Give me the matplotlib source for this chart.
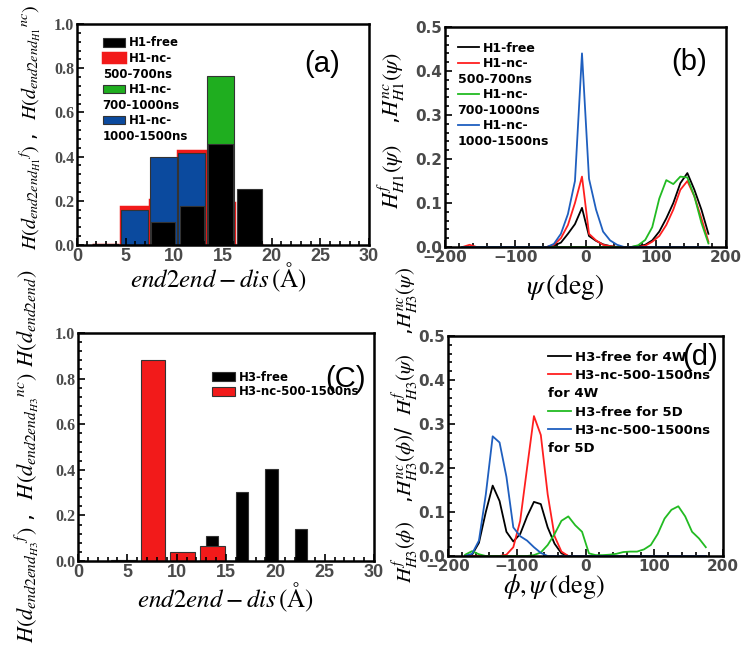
import numpy as np
import matplotlib
matplotlib.use("Agg")
import matplotlib.pyplot as plt
from matplotlib.lines import Line2D
from matplotlib.ticker import MultipleLocator, AutoMinorLocator

plt.rcParams['mathtext.fontset'] = 'stix'

# ---- data: panel (a), H1 end-to-end distance histogram
a_bins = [2.95, 5.9, 8.85, 11.8, 14.75, 17.7]
a_free = [0.005, 0.0, 0.105, 0.176, 0.457, 0.252]
a_nc_500_700 = [0.0, 0.17, 0.204, 0.427, 0.19, 0.0]
a_nc_700_1000 = [0.0, 0.0, 0.0, 0.0, 0.766, 0.0]
a_nc_1000_1500 = [0.0, 0.158, 0.40, 0.418, 0.0, 0.0]

# ---- panel (c), H3 end-to-end distance histogram
c_bins = [4.6, 7.6, 10.6, 13.6, 16.6, 19.6, 22.6]
c_free = [0.0, 0.0, 0.0, 0.11, 0.303, 0.402, 0.142]
c_nc = [0.004, 0.883, 0.04, 0.064, 0.0, 0.0, 0.0]

# ---- panel (b), H1 psi distribution (bin centres -175..175)
angles = np.arange(-175, 180, 10)
b_free = [0] * 12 + [0, .003, .01, .03, .052, .089, .025, .014, .006, .002, 0, 0,
                     0, .002, .005, .015, .035, .065, .1, .145, .168, .13, .085, .03]
b_nc_500_700 = [0, .005] + [0] * 10 + [0, .005, .02, .05, .1, .16, .03, .015, .005, .002, 0, 0,
                                        0, 0, .003, .012, .025, .05, .085, .13, .15, .115, .065, .012]
b_nc_700_1000 = [0] * 24 + [0, .004, .016, .045, .11, .152, .143, .16, .158, .115, .055, .008]
b_nc_1000_1500 = [0] * 12 + [0, .007, .03, .075, .15, .44, .155, .085, .035, .015, .005, 0] + [0] * 12

# ---- panel (d), H3 phi/psi distributions
d_free_4w = [0, .003, .03, .1, .16, .125, .055, .033, .05, .09, .123, .118, .065, .028, .006] + [0] * 21
d_nc_4w = [0] * 6 + [.003, .02, .08, .2, .318, .275, .14, .045, .01] + [0] * 21
d_free_5d = [.003, .011, .004, 0, 0, 0, 0, 0, 0, 0, .002, .008, .025, .05, .08, .09, .07, .055,
             .006, .002, .002, .003, .005, .009, .01, .01, .015, .025, .05, .085, .105, .113,
             .09, .055, .04, .02]
d_nc_5d = [0, .005, .035, .14, .272, .258, .18, .065, .045, .035, .02, .007] + [0] * 24

RED = '#f21a1a'
GREEN = '#1fae1f'
BLUE = '#0b4a9e'
TICK_GRAY = '#4a4a4a'
LEG_FONT = {'family': 'DejaVu Sans', 'weight': 'bold'}


def split_legend(ax, handles, labels, **kw):
    # second line of a label starts under the handle, as in the original figure
    hs, ls, cont = [], [], []
    for h, l in zip(handles, labels):
        parts = l.split('\n')
        hs.append(h)
        ls.append(parts[0])
        cont.append(False)
        for p in parts[1:]:
            hs.append(Line2D([], [], alpha=0))
            ls.append(p)
            cont.append(True)
    leg = ax.legend(hs, ls, frameon=False, borderaxespad=0, loc='upper left', **kw)
    rows = leg._legend_handle_box.get_children()[0].get_children()
    for row, c in zip(rows, cont):
        if c:
            del row.get_children()[0]
    return leg


def style_axes(ax, hist=False):
    for s in ax.spines.values():
        s.set_linewidth(1.8)
    ax.xaxis.set_minor_locator(AutoMinorLocator(5))
    ax.yaxis.set_minor_locator(AutoMinorLocator(5))
    ax.tick_params(which='both', direction='in', top=False, right=False,
                   width=1.2, colors='black', labelcolor=TICK_GRAY)
    ax.tick_params(which='major', length=5, pad=2)
    ax.tick_params(which='minor', length=3)
    if hist:
        ax.tick_params(axis='x', labelsize=13, labelfontfamily='Liberation Sans')
        ax.tick_params(axis='y', labelsize=11.5, labelfontfamily='Liberation Serif')
    else:
        ax.tick_params(axis='both', labelsize=11, labelfontfamily='DejaVu Sans')
    # bold tick labels (new ticks copy the props of the first one)
    for t in ax.xaxis.get_major_ticks() + ax.yaxis.get_major_ticks():
        t.label1.set_fontweight('bold')


def panel_tag(ax, x, y, s):
    ax.text(x, y, s, transform=ax.transAxes, fontsize=21,
            family='Liberation Sans', ha='center', va='center')


fig = plt.figure(figsize=(7.45, 6.49), dpi=100)
W, H = 745.0, 649.0
ax_a = fig.add_axes([77 / W, 1 - 245 / H, 292 / W, 221 / H])
ax_b = fig.add_axes([445 / W, 1 - 247 / H, 281 / W, 220 / H])
ax_c = fig.add_axes([78 / W, 1 - 561 / H, 296 / W, 228 / H])
ax_d = fig.add_axes([448 / W, 1 - 556 / H, 275 / W, 220 / H])

# ---- (a)
bw = 2.75
r = ax_a.bar(a_bins, a_nc_500_700, bw, color=RED, edgecolor=RED, linewidth=2.5)
g = ax_a.bar(a_bins, a_nc_700_1000, bw, color=GREEN, edgecolor='#333333', linewidth=0.8)
b = ax_a.bar(a_bins, a_nc_1000_1500, bw, color=BLUE, edgecolor='#333333', linewidth=0.8)
k = ax_a.bar(a_bins, a_free, bw * 0.92, color='black', edgecolor='#333333', linewidth=0.8)
ax_a.set_xlim(0, 30)
ax_a.set_ylim(0, 1.0)
ax_a.xaxis.set_major_locator(MultipleLocator(5))
ax_a.yaxis.set_major_locator(MultipleLocator(0.2))
ax_a.yaxis.set_major_formatter('{x:.1f}')
style_axes(ax_a, hist=True)
split_legend(ax_a, [k, r, g, b],
             ['H1-free', 'H1-nc-\n500-700ns', 'H1-nc-\n700-1000ns', 'H1-nc-\n1000-1500ns'],
             bbox_to_anchor=(0.08, 0.955), prop=dict(LEG_FONT, size=8.5),
             handlelength=1.9, handleheight=0.75, handletextpad=0.3, labelspacing=0.22,
             borderpad=0.2)
panel_tag(ax_a, 0.84, 0.82, '(a)')
ax_a.set_xlabel(r'$end2end - dis\,(\mathrm{Å})$', fontsize=18, va='center')
ax_a.xaxis.set_label_coords(0.483, -0.145)
ax_a.set_ylabel(r'$H({d_{end2end_{H1}}}^{f})$ ,  $H({d_{end2end_{H1}}}^{nc})$', fontsize=14.5, va='center')
ax_a.yaxis.set_label_coords(-0.161, 0.53)

# ---- (b)
ax_b.plot(angles, b_free, color='black', lw=1.3, label='H1-free')
ax_b.plot(angles, b_nc_500_700, color='#ff1f1f', lw=1.3, label='H1-nc-\n500-700ns')
ax_b.plot(angles, b_nc_700_1000, color='#22bb22', lw=1.3, label='H1-nc-\n700-1000ns')
ax_b.plot(angles, b_nc_1000_1500, color='#1f5fbf', lw=1.3, label='H1-nc-\n1000-1500ns')
ax_b.set_xlim(-200, 200)
ax_b.set_ylim(0, 0.5)
ax_b.xaxis.set_major_locator(MultipleLocator(100))
ax_b.yaxis.set_major_locator(MultipleLocator(0.1))
ax_b.yaxis.set_major_formatter('{x:.1f}')
style_axes(ax_b)
hb, lb = ax_b.get_legend_handles_labels()
split_legend(ax_b, hb, lb, bbox_to_anchor=(0.036, 0.945), prop=dict(LEG_FONT, size=9),
             handlelength=1.7, handletextpad=0.3, labelspacing=0.2, borderpad=0.2)
panel_tag(ax_b, 0.87, 0.84, '(b)')
ax_b.set_xlabel(r'$\psi\,(\mathrm{deg})$', fontsize=20, va='center')
ax_b.xaxis.set_label_coords(0.427, -0.18)
ax_b.set_ylabel(r'$H^{f}_{H1}(\psi)$   ,$H^{nc}_{H1}(\psi)$', fontsize=16, va='center')
ax_b.yaxis.set_label_coords(-0.19, 0.53)

# ---- (c)
k3 = ax_c.bar(c_bins, c_free, 1.25, color='black', edgecolor='#333333', linewidth=0.8)
r3 = ax_c.bar(c_bins, c_nc, 2.5, color=RED, edgecolor='#333333', linewidth=0.8)
ax_c.set_xlim(0, 30)
ax_c.set_ylim(0, 1.0)
ax_c.xaxis.set_major_locator(MultipleLocator(5))
ax_c.yaxis.set_major_locator(MultipleLocator(0.2))
ax_c.yaxis.set_major_formatter('{x:.1f}')
style_axes(ax_c, hist=True)
split_legend(ax_c, [k3, r3], ['H3-free', 'H3-nc-500-1500ns'],
             bbox_to_anchor=(0.445, 0.845), prop=dict(LEG_FONT, size=8.5),
             handlelength=1.9, handleheight=0.8, handletextpad=0.4, labelspacing=0.15,
             borderpad=0.2)
panel_tag(ax_c, 0.905, 0.80, '(C)')
ax_c.set_xlabel(r'$end2end - dis\,(\mathrm{Å})$', fontsize=18, va='center')
ax_c.xaxis.set_label_coords(0.497, -0.158)
# the label of (c) runs up past the top of its axes, as in the original
ax_c.set_ylabel(r'$H({d_{end2end_{H3}}}^{f})$ ,  $H({d_{end2end_{H3}}}^{nc})$ $H(d_{end2end})$',
                fontsize=16, va='center', ha='left')
ax_c.yaxis.set_label_coords(-0.172, -0.36)

# ---- (d)
ax_d.plot(angles, d_free_4w, color='black', lw=1.3, label='H3-free for 4W')
ax_d.plot(angles, d_nc_4w, color='#ff1f1f', lw=1.3, label='H3-nc-500-1500ns\nfor 4W')
ax_d.plot(angles, d_free_5d, color='#22bb22', lw=1.3, label='H3-free for 5D')
ax_d.plot(angles, d_nc_5d, color='#1f5fbf', lw=1.3, label='H3-nc-500-1500ns\nfor 5D')
ax_d.set_xlim(-200, 200)
ax_d.set_ylim(0, 0.5)
ax_d.xaxis.set_major_locator(MultipleLocator(100))
ax_d.yaxis.set_major_locator(MultipleLocator(0.1))
ax_d.yaxis.set_major_formatter('{x:.1f}')
style_axes(ax_d)
hd, ld = ax_d.get_legend_handles_labels()
split_legend(ax_d, hd, ld, bbox_to_anchor=(0.355, 0.945), prop=dict(LEG_FONT, size=9.5),
             handlelength=1.7, handletextpad=0.3, labelspacing=0.4, borderpad=0.2)
panel_tag(ax_d, 0.916, 0.905, '(d)')
ax_d.set_xlabel(r'$\phi, \psi\,(\mathrm{deg})$', fontsize=19, va='center')
ax_d.xaxis.set_label_coords(0.385, -0.14)
ax_d.set_ylabel(r'$H^{f}_{H3}(\phi)$   ,$H^{nc}_{H3}(\phi)$/  $H^{f}_{H3}(\psi)$   ,$H^{nc}_{H3}(\psi)$',
                fontsize=15, va='center')
ax_d.yaxis.set_label_coords(-0.156, 0.595)

fig.savefig('out.png', dpi=100)
